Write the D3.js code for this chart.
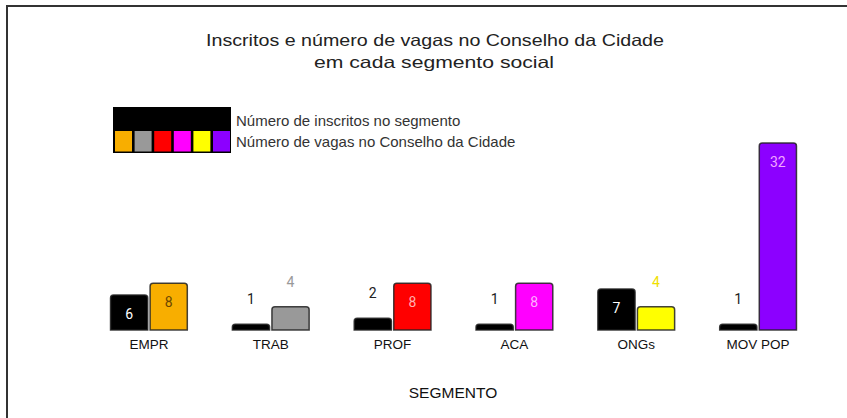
<!DOCTYPE html>
<html>
<head>
<meta charset="utf-8">
<script src="https://cdn.jsdelivr.net/npm/d3@7"></script>
<style>
  body { margin: 0; background: #fff; }
  text { font-family: "Liberation Sans", Arial, sans-serif; }
  .value { font-family: Roboto, "Liberation Sans", sans-serif; font-size: 14px; }
</style>
</head>
<body>
<div id="chart"></div>
<script>
// DATA
const segments = ["EMPR", "TRAB", "PROF", "ACA", "ONGs", "MOV POP"];
const inscritos = [6, 1, 2, 1, 7, 1];
const vagas = [8, 4, 8, 8, 4, 32];
const seriesNames = ["Número de inscritos no segmento", "Número de vagas no Conselho da Cidade"];

// colours of the "vagas" bars, one per segment
const vagasColors = ["#f8ae00", "#999999", "#ff0000", "#ff00ff", "#ffff00", "#8c00ff"];
// label colour when the number sits inside the bar / above the bar
const vagasInner = ["#6b4600", "#ffffff", "#ffb0b0", "#ffb0ff", "#555500", "#f2a6ff"];
const vagasOuter = ["#f8ae00", "#999999", "#ff0000", "#ff00ff", "#f0e000", "#8c00ff"];

const w = 847, h = 418;

const svg = d3.select("#chart")
  .append("svg")
  .attr("width", w)
  .attr("height", h);

// frame (runs off the right and bottom edge)
svg.append("rect")
  .attr("x", 7)
  .attr("y", 6)
  .attr("width", 900)
  .attr("height", 500)
  .attr("fill", "none")
  .attr("stroke", "#333")
  .attr("stroke-width", 2);

// title
const title = svg.append("g")
  .attr("text-anchor", "middle")
  .attr("fill", "#222");
title.append("text")
  .attr("x", 435).attr("y", 46)
  .attr("font-size", 16.5)
  .attr("textLength", 458)
  .attr("lengthAdjust", "spacingAndGlyphs")
  .text("Inscritos e número de vagas no Conselho da Cidade");
title.append("text")
  .attr("x", 434).attr("y", 68)
  .attr("font-size", 16.5)
  .attr("textLength", 240)
  .attr("lengthAdjust", "spacingAndGlyphs")
  .text("em cada segmento social");

// scales
const x = d3.scaleBand()
  .domain(segments)
  .range([88, 819])
  .paddingInner(0.37)
  .paddingOuter(0.185);

const xSub = d3.scaleBand()
  .domain([0, 1])
  .range([0, x.bandwidth()])
  .paddingInner(0.06);

const y = d3.scaleLinear()
  .domain([0, 32])
  .range([330, 143]);

// bar with rounded top corners
function barPath(x0, width, v) {
  const top = y(v), bottom = y(0), r = Math.min(3, (bottom - top) / 2);
  return `M${x0},${bottom}V${top + r}Q${x0},${top} ${x0 + r},${top}` +
    `H${x0 + width - r}Q${x0 + width},${top} ${x0 + width},${top + r}V${bottom}Z`;
}

const rows = segments.map((s, i) => ({
  seg: s,
  bars: [
    { k: 0, v: inscritos[i], fill: "#000000", inner: "#ffffff", outer: "#222222" },
    { k: 1, v: vagas[i], fill: vagasColors[i], inner: vagasInner[i], outer: vagasOuter[i] }
  ]
}));

const groups = svg.selectAll("g.seg")
  .data(rows)
  .enter()
  .append("g")
  .attr("class", "seg")
  .attr("transform", d => `translate(${x(d.seg)},0)`);

const bars = groups.selectAll("g.bar")
  .data(d => d.bars)
  .enter()
  .append("g")
  .attr("class", "bar");

bars.append("path")
  .attr("d", d => barPath(xSub(d.k), xSub.bandwidth(), d.v))
  .attr("fill", d => d.fill)
  .attr("stroke", "#222")
  .attr("stroke-opacity", 0.85)
  .attr("stroke-width", 1.5);

// value labels: inside the bar when it is tall enough, above otherwise
bars.append("text")
  .attr("class", "value")
  .attr("text-anchor", "middle")
  .attr("x", d => xSub(d.k) + xSub.bandwidth() / 2)
  .attr("y", d => (y(0) - y(d.v) > 30) ? y(d.v) + 24 : y(d.v) - 20)
  .attr("fill", d => (y(0) - y(d.v) > 30) ? d.inner : d.outer)
  .text(d => d.v);

// category axis labels
svg.append("g")
  .selectAll("text")
  .data(segments)
  .enter()
  .append("text")
  .attr("x", d => x(d) + x.bandwidth() / 2)
  .attr("y", 349)
  .attr("text-anchor", "middle")
  .attr("font-size", 13.5)
  .attr("fill", "#111")
  .text(d => d);

svg.append("text")
  .attr("x", 453)
  .attr("y", 398)
  .attr("text-anchor", "middle")
  .attr("font-size", 15.5)
  .attr("fill", "#111")
  .text("SEGMENTO");

// legend
const legend = svg.append("g").attr("transform", "translate(113,107)");
legend.append("rect")
  .attr("width", 118)
  .attr("height", 46)
  .attr("fill", "#000");
legend.selectAll("rect.sw")
  .data(vagasColors)
  .enter()
  .append("rect")
  .attr("class", "sw")
  .attr("x", (d, i) => 2 + i * 19.6)
  .attr("y", 24)
  .attr("width", 17)
  .attr("height", 20.5)
  .attr("fill", d => d);
legend.selectAll("text")
  .data(seriesNames)
  .enter()
  .append("text")
  .attr("x", 123)
  .attr("y", (d, i) => 19 + i * 21)
  .attr("font-size", 15)
  .attr("fill", "#333")
  .text(d => d);
</script>
</body>
</html>
